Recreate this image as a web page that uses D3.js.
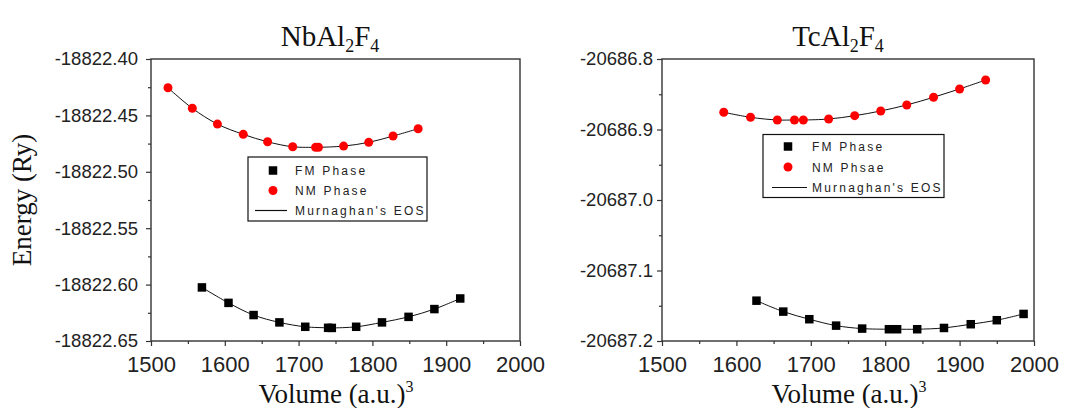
<!DOCTYPE html>
<html>
<head>
<meta charset="utf-8">
<script src="https://cdn.jsdelivr.net/npm/d3@7"></script>
<style>
  body { margin: 0; background: #fff; }
  svg { display: block; }
</style>
</head>
<body>
<svg id="chart" width="1078" height="408"></svg>
<script>
// ---- data ----
var xTicks = [1500, 1600, 1700, 1800, 1900, 2000];
var xMinor = [1550, 1650, 1750, 1850, 1950];

// NbAl2F4
var nbTicks = [-18822.40, -18822.45, -18822.50, -18822.55, -18822.60, -18822.65];
var nbTickLabels = ["-18822.40", "-18822.45", "-18822.50", "-18822.55", "-18822.60", "-18822.65"];
var nbMinor = [-18822.425, -18822.475, -18822.525, -18822.575, -18822.625];
var nbFmVol = [1569, 1605, 1639, 1674, 1709, 1740, 1745, 1778, 1813, 1849, 1884, 1919];
var nbFmEn = [-18822.6025, -18822.6162, -18822.6270, -18822.6335, -18822.6374, -18822.6383, -18822.6384,
              -18822.6374, -18822.6335, -18822.6286, -18822.6217, -18822.6123];
var nbNmVol = [1523, 1556, 1590, 1625, 1658, 1692, 1723, 1727, 1761, 1795, 1828, 1862];
var nbNmEn = [-18822.4255, -18822.4437, -18822.4577, -18822.4668, -18822.4734, -18822.4778, -18822.4783,
              -18822.4783, -18822.4772, -18822.4739, -18822.4683, -18822.4618];

// TcAl2F4
var tcTicks = [-20686.8, -20686.9, -20687.0, -20687.1, -20687.2];
var tcTickLabels = ["-20686.8", "-20686.9", "-20687.0", "-20687.1", "-20687.2"];
var tcMinor = [-20686.85, -20686.95, -20687.05, -20687.15];
var tcFmVol = [1627, 1663, 1698, 1734, 1769, 1805, 1816, 1843, 1879, 1915, 1950, 1986];
var tcFmEn = [-20687.1428, -20687.1583, -20687.1691, -20687.1782, -20687.1824, -20687.1833, -20687.1833,
              -20687.1833, -20687.1815, -20687.1762, -20687.1705, -20687.1616];
var tcNmVol = [1583, 1619, 1655, 1678, 1690, 1724, 1759, 1794, 1829, 1865, 1900, 1935];
var tcNmEn = [-20686.8756, -20686.8827, -20686.8865, -20686.8865, -20686.8865, -20686.8851, -20686.8804,
              -20686.8737, -20686.8652, -20686.8543, -20686.8425, -20686.8298];

var svg = d3.select("#chart");
svg.append("rect").attr("width", 1078).attr("height", 408).attr("fill", "#fff");

function zip(a, b) { return a.map(function (v, i) { return [v, b[i]]; }); }

function panel(p) {
    var xScale = d3.scaleLinear().domain([1500, 2000]).range([p.left, p.right]),
        yScale = d3.scaleLinear().domain(p.yDomain).range([p.top, p.bottom]);

    var g = svg.append("g");

    // frame
    g.append("rect")
     .attr("x", p.left).attr("y", p.top)
     .attr("width", p.right - p.left).attr("height", p.bottom - p.top)
     .attr("fill", "none").attr("stroke", "#333").attr("stroke-width", 1.4);

    // x axis
    var xa = g.append("g")
     .attr("transform", "translate(0," + p.bottom + ")")
     .call(d3.axisBottom(xScale).tickValues(xTicks).tickSize(5).tickPadding(10)
           .tickFormat(function (d) { return String(d); }));
    g.append("g")
     .attr("transform", "translate(0," + p.bottom + ")")
     .call(d3.axisBottom(xScale).tickValues(xMinor).tickSize(3).tickFormat(""));

    // y axis
    var ya = g.append("g")
     .attr("transform", "translate(" + p.left + ",0)")
     .call(d3.axisLeft(yScale).tickValues(p.yTicks).tickSize(5).tickPadding(p.yPad)
           .tickFormat(function (d, i) { return p.yLabels[i]; }));
    g.append("g")
     .attr("transform", "translate(" + p.left + ",0)")
     .call(d3.axisLeft(yScale).tickValues(p.yMinor).tickSize(3).tickFormat(""));

    g.selectAll(".domain").remove();
    g.selectAll(".tick line").attr("stroke", "#333").attr("stroke-width", 1.2);
    g.selectAll(".tick text")
     .style("font-family", "'Liberation Sans', Arial, sans-serif")
     .attr("fill", "#222");
    xa.selectAll(".tick text").style("font-size", "22px");
    ya.selectAll(".tick text").style("font-size", "18.5px");

    // EOS curves
    var line = d3.line()
        .x(function (d) { return xScale(d[0]); })
        .y(function (d) { return yScale(d[1]); })
        .curve(d3.curveCatmullRom.alpha(0.5));

    [zip(p.fmVol, p.fmEn), zip(p.nmVol, p.nmEn)].forEach(function (pts) {
        g.append("path").datum(pts)
         .attr("d", line)
         .attr("fill", "none").attr("stroke", "#111").attr("stroke-width", 1);
    });

    // points
    g.append("g").selectAll("rect")
     .data(zip(p.fmVol, p.fmEn)).enter()
     .append("rect")
     .attr("x", function (d) { return xScale(d[0]) - 4.25; })
     .attr("y", function (d) { return yScale(d[1]) - 4.25; })
     .attr("width", 8.5).attr("height", 8.5)
     .attr("fill", "#000");

    g.append("g").selectAll("circle")
     .data(zip(p.nmVol, p.nmEn)).enter()
     .append("circle")
     .attr("cx", function (d) { return xScale(d[0]); })
     .attr("cy", function (d) { return yScale(d[1]); })
     .attr("r", 4.5)
     .attr("fill", "#ff0000");

    // title
    var t = g.append("text")
     .attr("x", p.titleX).attr("y", 46)
     .attr("text-anchor", "middle")
     .style("font-family", "'Liberation Serif', 'Times New Roman', serif")
     .style("font-size", "29px").attr("fill", "#111");
    t.append("tspan").text(p.title[0]);
    t.append("tspan").attr("dy", 6).style("font-size", "18px").text("2");
    t.append("tspan").attr("dy", -6).text("F");
    t.append("tspan").attr("dy", 6).style("font-size", "18px").text("4");

    // x label
    var xl = g.append("text")
     .attr("x", p.xLabelX).attr("y", 403)
     .attr("text-anchor", "middle")
     .style("font-family", "'Liberation Serif', 'Times New Roman', serif")
     .style("font-size", "27px").attr("fill", "#111");
    xl.append("tspan").text("Volume (a.u.)");
    xl.append("tspan").attr("dy", -11).style("font-size", "16px").text("3");

    // legend
    var L = p.legend;
    g.append("rect")
     .attr("x", L.x).attr("y", L.y).attr("width", L.w).attr("height", L.h)
     .attr("fill", "#fff").attr("stroke", "#111").attr("stroke-width", 1.2);
    L.labels.forEach(function (lab, i) {
        var cy = L.y + L.first + i * L.step;
        if (i === 0) {
            g.append("rect").attr("x", L.mx - 4.25).attr("y", cy - 4.25)
             .attr("width", 8.5).attr("height", 8.5).attr("fill", "#000");
        } else if (i === 1) {
            g.append("circle").attr("cx", L.mx).attr("cy", cy).attr("r", 4.5).attr("fill", "#ff0000");
        } else {
            g.append("line").attr("x1", L.lx1).attr("x2", L.lx2).attr("y1", cy).attr("y2", cy)
             .attr("stroke", "#111").attr("stroke-width", 1.2);
        }
        g.append("text")
         .attr("x", L.tx).attr("y", cy + 4.5)
         .style("font-family", "'Liberation Sans', Arial, sans-serif")
         .style("font-size", "12px").style("letter-spacing", "2.2px")
         .attr("fill", "#222")
         .text(lab);
    });
}

panel({
    left: 151, right: 520, top: 59, bottom: 341,
    yDomain: [-18822.40, -18822.65], yTicks: nbTicks, yLabels: nbTickLabels, yMinor: nbMinor, yPad: 8,
    fmVol: nbFmVol, fmEn: nbFmEn, nmVol: nbNmVol, nmEn: nbNmEn,
    title: ["NbAl"], titleX: 330, xLabelX: 336,
    legend: { x: 248, y: 157, w: 179, h: 64, first: 13.5, step: 20, mx: 273, lx1: 255, lx2: 287, tx: 295,
              labels: ["FM Phase", "NM Phase", "Murnaghan's EOS"] }
});

panel({
    left: 662, right: 1034, top: 59, bottom: 341,
    yDomain: [-20686.8, -20687.2], yTicks: tcTicks, yLabels: tcTickLabels, yMinor: tcMinor, yPad: 4,
    fmVol: tcFmVol, fmEn: tcFmEn, nmVol: tcNmVol, nmEn: tcNmEn,
    title: ["TcAl"], titleX: 838, xLabelX: 849,
    legend: { x: 763, y: 134.5, w: 181, h: 63, first: 12, step: 20.5, mx: 788, lx1: 772, lx2: 807, tx: 812,
              labels: ["FM Phase", "NM Phsae", "Murnaghan's EOS"] }
});

// shared y label
svg.append("text")
   .attr("transform", "translate(31,200)rotate(-90)")
   .attr("text-anchor", "middle")
   .style("font-family", "'Liberation Serif', 'Times New Roman', serif")
   .style("font-size", "27px").attr("fill", "#111")
   .text("Energy (Ry)");
</script>
</body>
</html>
